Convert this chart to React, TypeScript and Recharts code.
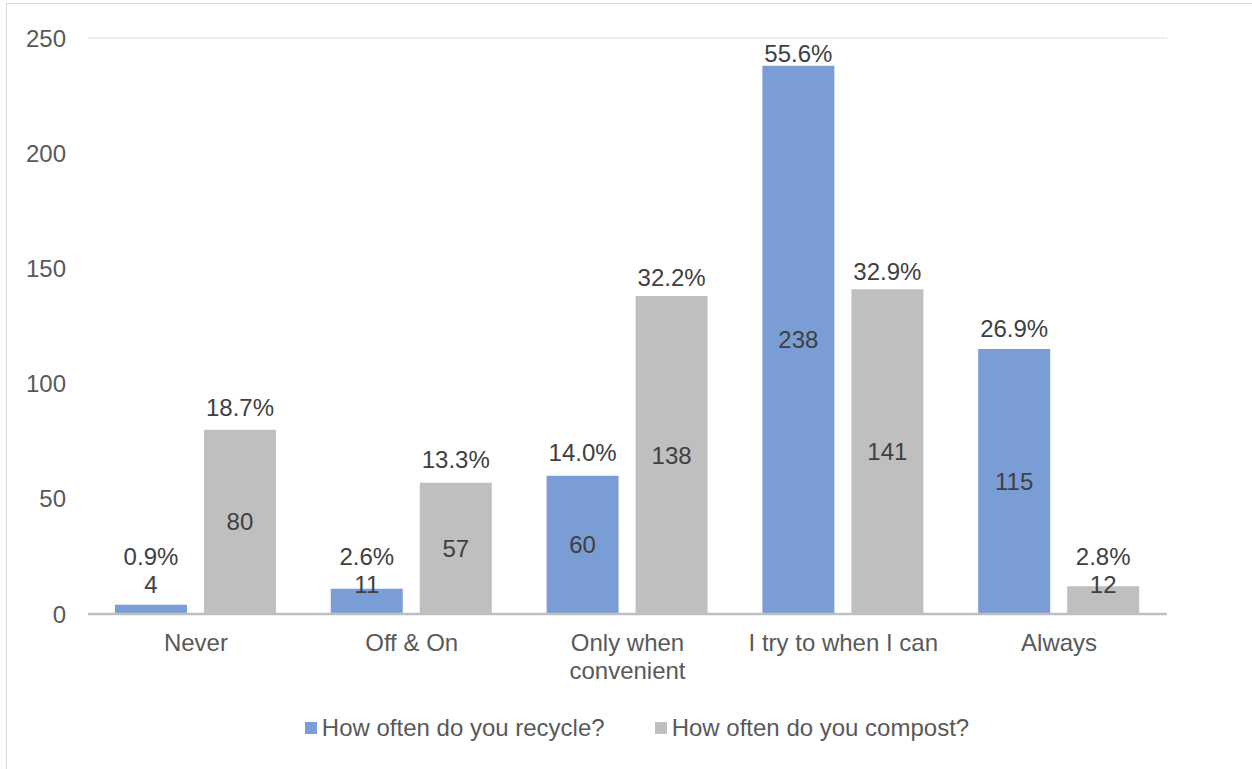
import React from 'react';
import { BarChart, Bar, XAxis, YAxis, CartesianGrid, LabelList, Legend } from 'recharts';

const categories = ['Never', 'Off & On', 'Only when\nconvenient', 'I try to when I can', 'Always'];
const recycleCounts = [4, 11, 60, 238, 115];
const compostCounts = [80, 57, 138, 141, 12];
const recyclePct = [0.9, 2.6, 14.0, 55.6, 26.9];
const compostPct = [18.7, 13.3, 32.2, 32.9, 2.8];
const leftTicks = [0, 50, 100, 150, 200, 250];
const rightTicks = [0, 10, 20, 30, 40, 50, 60];
const LEFT_MAX = 250;
const RIGHT_MAX = 60;

const data = categories.map((name, i) => ({
  name,
  recycle: recycleCounts[i],
  compost: compostCounts[i],
}));

const FONT = '"Liberation Sans", Arial, sans-serif';
const AXIS_COLOR = '#595959';
const LABEL_COLOR = '#404040';
const BLUE = '#7b9dd5';
const GRAY = '#bfbfbf';

const makeLabel = (pcts: number[]) => (props: any) => {
  const { x, y, width, height, value, index } = props;
  const cx = Number(x) + Number(width) / 2;
  const top = Number(y);
  const h = Number(height);
  const base = top + h;
  const perUnit = h / Number(value);
  const countY = Math.min(top + h / 2, base - 30);
  const pctTop = base - pcts[index] * (LEFT_MAX / RIGHT_MAX) * perUnit;
  const pctY = Math.min(pctTop - 27, countY - 28);
  return (
    <g>
      <text x={cx} y={countY} textAnchor="middle" dominantBaseline="central" fill={LABEL_COLOR} fontSize={24} fontFamily={FONT}>
        {value}
      </text>
      <text x={cx} y={pctY} textAnchor="middle" dominantBaseline="central" fill={LABEL_COLOR} fontSize={24} fontFamily={FONT}>
        {pcts[index].toFixed(1)}%
      </text>
    </g>
  );
};

const CatTick = (props: any) => {
  const { x, y, payload } = props;
  const lines = String(payload.value).split('\n');
  return (
    <text x={x} y={Number(y) + 28} textAnchor="middle" fill={AXIS_COLOR} fontSize={24} fontFamily={FONT}>
      {lines.map((ln, i) => (
        <tspan key={i} x={x} y={Number(y) + 28 + i * 28} dominantBaseline="central">
          {ln}
        </tspan>
      ))}
    </text>
  );
};

const legendItems = [
  { label: 'How often do you recycle?', color: BLUE },
  { label: 'How often do you compost?', color: GRAY },
];

const LegendContent = () => (
  <div
    style={{
      display: 'flex',
      justifyContent: 'center',
      paddingLeft: 22,
      paddingTop: 15,
      fontSize: 24,
      lineHeight: '28px',
      color: AXIS_COLOR,
      fontFamily: FONT,
      gap: 50,
    }}
  >
    {legendItems.map((it) => (
      <div key={it.label} style={{ display: 'flex', alignItems: 'center' }}>
        <span style={{ display: 'inline-block', width: 12, height: 12, background: it.color, marginRight: 5 }} />
        <span>{it.label}</span>
      </div>
    ))}
  </div>
);

export default function App() {
  return (
    <div
      style={{
        position: 'absolute',
        left: 0,
        top: 0,
        width: 1252,
        height: 769,
        overflow: 'hidden',
        background: '#fff',
        fontFamily: FONT,
      }}
    >
      <div
        style={{
          position: 'absolute',
          left: 6,
          top: 3,
          width: 1262,
          height: 790,
          border: '1.5px solid #d9d9d9',
        }}
      />
      <div style={{ position: 'absolute', left: 0, top: 0 }}>
        <BarChart
          width={1252}
          height={769}
          data={data}
          margin={{ top: 38, right: 0, left: 0, bottom: 0 }}
          barCategoryGap="12.5%"
          barGap={17}
        >
          <CartesianGrid yAxisId="right" vertical={false} stroke="#e8e8e8" strokeWidth={1.5} />
          <XAxis
            dataKey="name"
            height={85}
            interval={0}
            tickLine={false}
            tickSize={0}
            tickMargin={0}
            axisLine={{ stroke: GRAY, strokeWidth: 2.5 }}
            tick={<CatTick />}
          />
          <YAxis
            yAxisId="left"
            domain={[0, LEFT_MAX]}
            ticks={leftTicks}
            width={88}
            axisLine={false}
            tickLine={false}
            tickSize={0}
            tickMargin={22}
            tick={{ fill: AXIS_COLOR, fontSize: 24, fontFamily: FONT }}
          />
          <YAxis
            yAxisId="right"
            orientation="right"
            domain={[0, RIGHT_MAX]}
            ticks={rightTicks}
            tickFormatter={(v: number) => `${v}%`}
            width={85}
            axisLine={false}
            tickLine={false}
            tickSize={0}
            tickMargin={20}
            tick={{ fill: AXIS_COLOR, fontSize: 24, fontFamily: FONT, textAnchor: 'start' }}
          />
          <Bar yAxisId="left" dataKey="recycle" fill={BLUE} isAnimationActive={false}>
            <LabelList dataKey="recycle" content={makeLabel(recyclePct)} />
          </Bar>
          <Bar yAxisId="left" dataKey="compost" fill={GRAY} isAnimationActive={false}>
            <LabelList dataKey="compost" content={makeLabel(compostPct)} />
          </Bar>
          <Legend verticalAlign="bottom" content={<LegendContent />} wrapperStyle={{ height: 70 }} />
        </BarChart>
      </div>
    </div>
  );
}
